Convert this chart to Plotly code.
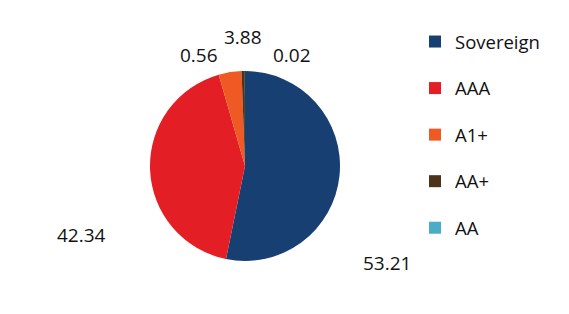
import plotly.graph_objects as go

categories = ["Sovereign", "AAA", "A1+", "AA+", "AA"]
values = [53.21, 42.34, 3.88, 0.56, 0.02]
colors = ["#173f72", "#e31e24", "#ef5a24", "#4d3319", "#4bacc6"]
label_text = ["53.21", "42.34", "3.88", "0.56", "0.02"]
# label anchor positions (paper coords) for value labels
label_x = [387 / 569, 81 / 569, 243 / 569, 199 / 569, 292 / 569]
label_y = [1 - 263 / 314, 1 - 235 / 314, 1 - 37 / 314, 1 - 55 / 314, 1 - 55 / 314]

FONT = "Open Sans"

fig = go.Figure()
fig.add_trace(go.Pie(
    labels=categories, values=values, sort=False, direction="clockwise",
    rotation=0, marker=dict(colors=colors, line=dict(width=0)),
    textinfo="none", showlegend=False, hoverinfo="label+value",
    domain=dict(x=[150 / 569, 340 / 569], y=[1 - 261 / 314, 1 - 71 / 314]),
))

for i, (c, col) in enumerate(zip(categories, colors)):
    fig.add_trace(go.Scatter(
        x=[None], y=[None], mode="markers", name=c,
        marker=dict(symbol="square", size=12, color=col),
        legendgroup=str(i), showlegend=True,
    ))

for t, x, y in zip(label_text, label_x, label_y):
    fig.add_annotation(text=t, x=x, y=y, xref="paper", yref="paper",
                       showarrow=False, xanchor="center", yanchor="middle",
                       font=dict(family=FONT, size=19, color="#111111"))

fig.update_layout(
    width=569, height=314,
    margin=dict(l=0, r=0, t=0, b=0),
    paper_bgcolor="white", plot_bgcolor="white",
    xaxis=dict(visible=False), yaxis=dict(visible=False),
    legend=dict(x=415 / 569, y=1 - 23 / 314, xanchor="left", yanchor="top",
                traceorder="grouped", tracegroupgap=19.5,
                itemwidth=30,
                font=dict(family=FONT, size=18.5, color="#111111")),
    font=dict(family=FONT),
)

fig.write_html("out.html")
